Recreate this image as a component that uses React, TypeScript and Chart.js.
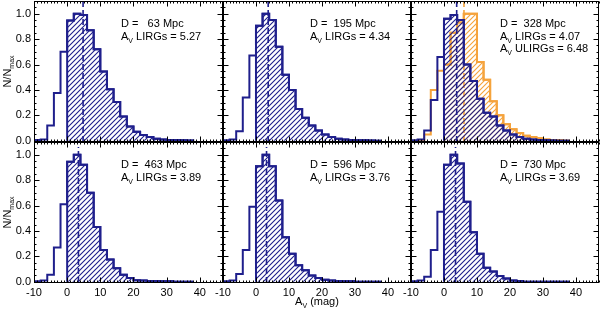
import { useEffect, useRef } from 'react';
import { Chart, registerables } from 'chart.js';

Chart.register(...registerables);

// ---------- data ----------
const BIN_EDGES = [-10, -8, -6, -4, -2, 0, 2, 4, 6, 8, 10, 12, 14, 16, 18, 20, 22, 24, 26, 28, 30, 32, 34, 36, 38];

const LIRG_63 = [0.005, 0.01, 0.12, 0.375, 0.70, 0.947, 1.0, 0.99, 0.87, 0.72, 0.545, 0.405, 0.305, 0.19, 0.113, 0.07, 0.045, 0.03, 0.015, 0.01, 0.006, 0.005, 0.004, 0.002];
const LIRG_195 = [0.003, 0.01, 0.075, 0.34, 0.67, 0.905, 1.0, 0.95, 0.74, 0.52, 0.40, 0.25, 0.18, 0.12, 0.08, 0.05, 0.03, 0.015, 0.01, 0.006, 0.004, 0.003, 0.002, 0];
const LIRG_328 = [0.003, 0.01, 0.08, 0.32, 0.66, 0.96, 0.99, 0.95, 0.60, 0.47, 0.33, 0.22, 0.19, 0.12, 0.08, 0.05, 0.03, 0.015, 0.01, 0.005, 0.003, 0.002, 0, 0];
const ULIRG_328 = [0, 0.005, 0.05, 0.40, 0.55, 0.60, 0.85, 0.93, 1.0, 1.0, 0.62, 0.48, 0.31, 0.20, 0.13, 0.09, 0.06, 0.04, 0.03, 0.02, 0.01, 0.005, 0.003, 0];
const LIRG_463 = [0.003, 0.01, 0.055, 0.27, 0.61, 0.945, 1.0, 0.92, 0.70, 0.43, 0.25, 0.175, 0.107, 0.055, 0.03, 0.012, 0.01, 0.006, 0.005, 0.004, 0.003, 0, 0, 0];
const LIRG_596 = [0.003, 0.01, 0.06, 0.25, 0.59, 0.91, 1.0, 0.91, 0.64, 0.35, 0.22, 0.13, 0.09, 0.05, 0.03, 0.015, 0.01, 0.006, 0.004, 0.003, 0, 0, 0, 0];
const LIRG_730 = [0.003, 0.01, 0.04, 0.25, 0.55, 0.92, 1.0, 0.93, 0.63, 0.39, 0.22, 0.11, 0.08, 0.045, 0.025, 0.01, 0.005, 0, 0, 0, 0, 0, 0, 0];

const DISTANCES_MPC = [63, 195, 328, 463, 596, 730];
const AV_LIRG_LABEL = ['5.27', '4.34', '4.07', '3.89', '3.76', '3.69'];
const AV_ULIRG_LABEL_328 = '6.48';
const AV_LIRG_MARK = [4.8, 3.7, 3.85, 3.4, 3.2, 3.5];
const AV_ULIRG_MARK_328 = 6.06;
const MARK_TOP = [1.1, 1.1, 1.1, 1.06, 1.06, 1.06];

const X_TICKS = [-10, 0, 10, 20, 30, 40];
const X_TICK_LABELS = ['-10', '0', '10', '20', '30', '40'];
const Y_TICKS = [0, 0.2, 0.4, 0.6, 0.8, 1.0];
const Y_TICK_LABELS = ['0.0', '0.2', '0.4', '0.6', '0.8', '1.0'];

const X_MIN = -10;
const X_MAX = 47;
const Y_MIN = -0.01;
const Y_MAX = 1.1;

// ---------- style / layout ----------
const NAVY = '#1f1f8c';
const ORANGE = '#f5a33c';
const FONT = '"Liberation Sans", Arial, Helvetica, sans-serif';
const COL_LEFT = [34, 223, 411];
const COL_RIGHT = [223, 411, 599];
const ROW_TOP = [1, 142];
const ROW_BOTTOM = [142, 283];
const W = 600;
const H = 311;

type Panel = {
  lirg: number[];
  ulirg?: number[];
};

const PANELS: Panel[] = [
  { lirg: LIRG_63 },
  { lirg: LIRG_195 },
  { lirg: LIRG_328, ulirg: ULIRG_328 },
  { lirg: LIRG_463 },
  { lirg: LIRG_596 },
  { lirg: LIRG_730 },
];

function stepPoints(values: number[], fromEdge: number) {
  const pts: { x: number; y: number }[] = [];
  const k = BIN_EDGES.indexOf(fromEdge);
  pts.push({ x: BIN_EDGES[k], y: 0 });
  for (let i = k; i < values.length; i++) {
    pts.push({ x: BIN_EDGES[i], y: values[i] });
    pts.push({ x: BIN_EDGES[i + 1], y: values[i] });
  }
  pts.push({ x: BIN_EDGES[values.length], y: 0 });
  return pts;
}

function makeHatch(ctx: CanvasRenderingContext2D, color: string) {
  const s = 5;
  const c = document.createElement('canvas');
  c.width = s;
  c.height = s;
  const g = c.getContext('2d')!;
  g.strokeStyle = color;
  g.lineWidth = 1.1;
  g.beginPath();
  g.moveTo(0, s);
  g.lineTo(s, 0);
  g.moveTo(-1, 1);
  g.lineTo(1, -1);
  g.moveTo(s - 1, s + 1);
  g.lineTo(s + 1, s - 1);
  g.stroke();
  return ctx.createPattern(c, 'repeat') as CanvasPattern;
}

function drawSubText(ctx: CanvasRenderingContext2D, x: number, y: number, main: string, sub: string, rest: string, size: number) {
  ctx.font = `${size}px ${FONT}`;
  ctx.fillText(main, x, y);
  let cx = x + ctx.measureText(main).width;
  ctx.font = `${Math.round(size * 0.65)}px ${FONT}`;
  ctx.fillText(sub, cx, y + 3);
  cx += ctx.measureText(sub).width;
  ctx.font = `${size}px ${FONT}`;
  ctx.fillText(rest, cx, y);
}

export default function App() {
  const refs = useRef<(HTMLCanvasElement | null)[]>([]);

  useEffect(() => {
    const charts: Chart[] = [];
    PANELS.forEach((p, i) => {
      const canvas = refs.current[i];
      if (!canvas) return;
      const ctx = canvas.getContext('2d')!;
      const row = Math.floor(i / 3);
      const col = i % 3;
      const navyHatch = makeHatch(ctx, NAVY);
      const orangeHatch = makeHatch(ctx, ORANGE);
      const showX = row === 1;
      const showY = col === 0;
      const yAxisWidth = showY ? COL_LEFT[col] : 0;
      const xAxisHeight = showX ? H - ROW_BOTTOM[row] : 0;

      const datasets: any[] = [];
      const lineBase = { pointRadius: 0, tension: 0, borderWidth: 2, fill: false };
      datasets.push({ ...lineBase, data: [{ x: AV_LIRG_MARK[i], y: Y_MIN }, { x: AV_LIRG_MARK[i], y: MARK_TOP[i] }], borderColor: NAVY, borderDash: [6, 3], borderWidth: 1.6 });
      datasets.push({ ...lineBase, data: stepPoints(p.lirg, 0), borderColor: NAVY, backgroundColor: navyHatch, fill: 'origin' });
      datasets.push({ ...lineBase, data: stepPoints(p.lirg, -10), borderColor: NAVY });
      if (p.ulirg) {
        datasets.push({ ...lineBase, data: [{ x: AV_ULIRG_MARK_328, y: Y_MIN }, { x: AV_ULIRG_MARK_328, y: MARK_TOP[i] }], borderColor: ORANGE, borderDash: [6, 3], borderWidth: 1.6 });
        datasets.push({ ...lineBase, data: stepPoints(p.ulirg, 0), borderColor: ORANGE, backgroundColor: orangeHatch, fill: 'origin' });
        datasets.push({ ...lineBase, data: stepPoints(p.ulirg, -10), borderColor: ORANGE });
      }

      const framePlugin = {
        id: 'frame' + i,
        afterDraw(chart: any) {
          const c: CanvasRenderingContext2D = chart.ctx;
          const a = chart.chartArea;
          const xs = chart.scales.x;
          const ys = chart.scales.y;
          const L = Math.round(a.left) + 0.5;
          const R = Math.round(a.right) - 0.5;
          const T = Math.round(a.top) + 0.5;
          const B = Math.round(a.bottom) - 0.5;
          c.save();
          c.strokeStyle = '#000';
          c.lineWidth = 1;
          c.beginPath();
          for (let v = X_MIN; v <= X_MAX; v += 1) {
            const px = Math.round(xs.getPixelForValue(v)) + 0.5;
            const len = X_TICKS.includes(v) ? 5 : 2;
            c.moveTo(px, B); c.lineTo(px, B - len);
            c.moveTo(px, T); c.lineTo(px, T + len);
          }
          for (let k = 0; k <= 21; k++) {
            const v = k * 0.05;
            const py = Math.round(ys.getPixelForValue(v)) + 0.5;
            const len = k % 4 === 0 ? 5 : 2;
            c.moveTo(L, py); c.lineTo(L + len, py);
            c.moveTo(R, py); c.lineTo(R - len, py);
          }
          c.stroke();
          c.strokeRect(L, T, R - L, B - T);

          c.fillStyle = '#000';
          c.textBaseline = 'alphabetic';
          c.textAlign = 'left';
          const tx = a.left + (col === 2 ? 89 : 87);
          const ty = a.top + 26;
          c.font = `11px ${FONT}`;
          c.fillText(`D = ${String(DISTANCES_MPC[i]).padStart(4, ' ')} Mpc`, tx, ty);
          drawSubText(c, tx, ty + 12.5, 'A', 'V', ` LIRGs = ${AV_LIRG_LABEL[i]}`, 11);
          if (p.ulirg) {
            drawSubText(c, tx, ty + 25, 'A', 'V', ` ULIRGs = ${AV_ULIRG_LABEL_328}`, 11);
          }

          if (col === 0) {
            c.save();
            c.translate(11, (a.top + a.bottom) / 2);
            c.rotate(-Math.PI / 2);
            c.font = `11px ${FONT}`;
            const w1 = c.measureText('N/N').width;
            c.font = `7px ${FONT}`;
            const w2 = c.measureText('max').width;
            drawSubText(c, -(w1 + w2) / 2, 0, 'N/N', 'max', '', 11);
            c.restore();
          }
          if (row === 1 && col === 1) {
            c.font = `11px ${FONT}`;
            const w1 = c.measureText('A').width;
            c.font = `7px ${FONT}`;
            const w2 = c.measureText('V').width;
            c.font = `11px ${FONT}`;
            const w3 = c.measureText(' (mag)').width;
            const tot = w1 + w2 + w3;
            drawSubText(c, (a.left + a.right) / 2 - tot / 2, 305, 'A', 'V', ' (mag)', 11);
          }
          c.restore();
        },
      };

      const chart = new Chart(canvas, {
        type: 'line',
        data: { datasets },
        options: {
          animation: false,
          responsive: false,
          maintainAspectRatio: false,
          events: [],
          layout: {
            padding: {
              left: COL_LEFT[col] - yAxisWidth,
              right: W - COL_RIGHT[col],
              top: ROW_TOP[row],
              bottom: H - ROW_BOTTOM[row] - xAxisHeight,
            },
          },
          plugins: {
            legend: { display: false },
            tooltip: { enabled: false },
            title: { display: false },
          },
          scales: {
            x: {
              type: 'linear',
              min: X_MIN,
              max: X_MAX,
              grid: { display: false, drawTicks: false },
              border: { display: false },
              ticks: {
                display: showX,
                color: '#000',
                font: { family: FONT, size: 11 },
                padding: 3,
                maxRotation: 0,
                autoSkip: false,
                callback: (v: any) => {
                  const k = X_TICKS.indexOf(Number(v));
                  return k >= 0 ? X_TICK_LABELS[k] : '';
                },
              },
              afterBuildTicks: (s: any) => {
                s.ticks = X_TICKS.map((v) => ({ value: v }));
              },
              afterFit: (s: any) => {
                s.height = xAxisHeight;
                s.paddingLeft = 0; s.paddingRight = 0; s.paddingTop = 0; s.paddingBottom = 0;
              },
            },
            y: {
              type: 'linear',
              min: Y_MIN,
              max: Y_MAX,
              grid: { display: false, drawTicks: false },
              border: { display: false },
              ticks: {
                display: showY,
                color: '#000',
                font: { family: FONT, size: 11 },
                padding: 3,
                autoSkip: false,
                callback: (v: any) => {
                  const k = Y_TICKS.findIndex((t) => Math.abs(t - Number(v)) < 1e-6);
                  return k >= 0 ? Y_TICK_LABELS[k] : '';
                },
              },
              afterBuildTicks: (s: any) => {
                s.ticks = Y_TICKS.map((v) => ({ value: v }));
              },
              afterFit: (s: any) => {
                s.width = yAxisWidth;
                s.paddingLeft = 0; s.paddingRight = 0; s.paddingTop = 0; s.paddingBottom = 0;
              },
            },
          },
        } as any,
        plugins: [framePlugin],
      });
      charts.push(chart);
    });
    return () => charts.forEach((c) => c.destroy());
  }, []);

  return (
    <div style={{ position: 'absolute', left: 0, top: 0, width: W, height: H, background: '#fff' }}>
      {PANELS.map((_, i) => (
        <canvas
          key={i}
          ref={(el) => {
            refs.current[i] = el;
          }}
          width={W}
          height={H}
          style={{ position: 'absolute', left: 0, top: 0, width: W, height: H }}
        />
      ))}
    </div>
  );
}
